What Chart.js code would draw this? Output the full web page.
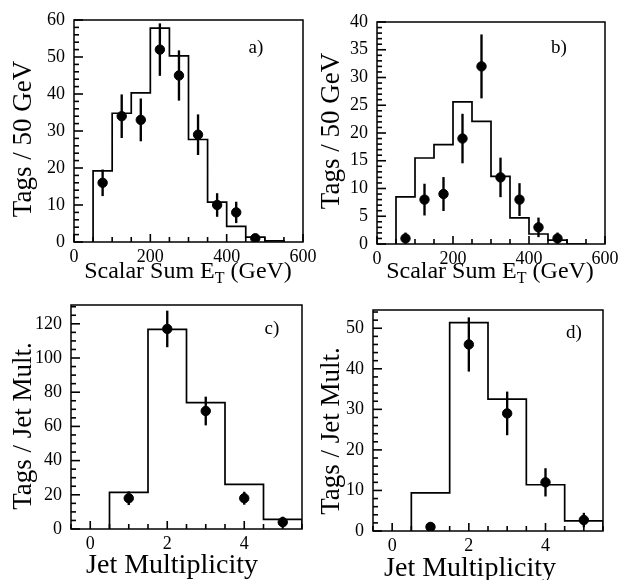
<!DOCTYPE html>
<html>
<head>
<meta charset="utf-8">
<script src="https://cdn.jsdelivr.net/npm/chart.js@4.4.1/dist/chart.umd.min.js"></script>
<style>
  html, body { margin: 0; padding: 0; background: #fff; }
  #wrap { position: relative; width: 621px; height: 580px; overflow: hidden; }
  canvas { position: absolute; }
</style>
</head>
<body>
<div id="wrap">
  <canvas id="chartA" width="330" height="290" style="left:0;top:0"></canvas>
  <canvas id="chartB" width="311" height="290" style="left:310px;top:0"></canvas>
  <canvas id="chartC" width="320" height="290" style="left:0;top:290px"></canvas>
  <canvas id="chartD" width="311" height="290" style="left:310px;top:290px"></canvas>
</div>
<script>
// scalar sum E_T panels (a, b): histogram bins of 50 GeV, left edges
const etEdges = [50, 100, 150, 200, 250, 300, 350, 400, 450, 500];
const etCenters = [75, 125, 175, 225, 275, 325, 375, 425, 475];
const etTicks = [0, 200, 400, 600];

const histA = [19.2, 34.8, 40.3, 57.8, 50.3, 27.7, 10.8, 4.2, 1.3, 0.3];
const tagsA = [16, 34, 33, 52, 45, 29, 10, 8, 1];
const errA = [3.5, 5.8, 5.7, 7, 6.7, 5.4, 3.1, 2.8, 1];
const yTicksA = [0, 10, 20, 30, 40, 50, 60];

const histB = [8.5, 15.5, 17.9, 25.6, 22.1, 12.2, 4.7, 1.8, 0.7, 0];
const tagsB = [1, 8, 9, 19, 32, 12, 8, 3, 1];
const errB = [1, 2.8, 3, 4.4, 5.7, 3.5, 2.9, 1.7, 1];
const yTicksB = [0, 5, 10, 15, 20, 25, 30, 35, 40];

// jet multiplicity panels (c, d)
const jetEdges = [0.5, 1.5, 2.5, 3.5, 4.5];
const jetCenters = [1, 2, 3, 4, 5];
const jetTicks = [0, 2, 4];

const histC = [21.4, 116.7, 73.9, 26.1, 5.6];
const tagsC = [18, 117, 69, 18, 4];
const errC = [3.8, 10.5, 8.2, 3.6, 3];
const yTicksC = [0, 20, 40, 60, 80, 100, 120];

const histD = [9.4, 51.4, 32.5, 11.4, 2.5];
const tagsD = [1, 46, 29, 12, 2.7];
const errD = [1, 6.6, 5.3, 3.4, 1.7];
const yTicksD = [0, 10, 20, 30, 40, 50];

const FONT = '"Liberation Serif", "Times New Roman", serif';

// box around the plot, ticks pointing inwards on left and bottom
function frameTicks(cfg) {
  return {
    id: 'frameTicks',
    afterDraw(chart) {
      const ctx = chart.ctx;
      const a = chart.chartArea;
      const xs = chart.scales.x;
      const ys = chart.scales.y;
      ctx.save();
      ctx.strokeStyle = '#000';
      ctx.lineWidth = 1.5;
      ctx.strokeRect(a.left, a.top, a.right - a.left, a.bottom - a.top);

      ctx.lineWidth = 1.6;
      const nx = Math.round((cfg.xMax - cfg.xMin) / cfg.xMinor);
      for (let i = 0; i <= nx; i++) {
        const v = cfg.xMin + i * cfg.xMinor;
        const px = xs.getPixelForValue(v);
        const major = cfg.xTicks.some(t => Math.abs(t - v) < 1e-6);
        ctx.beginPath();
        ctx.moveTo(px, a.bottom);
        ctx.lineTo(px, a.bottom - (major ? 8 : 5));
        ctx.stroke();
      }
      const ny = Math.floor(cfg.yMax / cfg.yMinor + 1e-9);
      for (let i = 0; i <= ny; i++) {
        const v = i * cfg.yMinor;
        const py = ys.getPixelForValue(v);
        const major = cfg.yTicks.some(t => Math.abs(t - v) < 1e-6);
        ctx.beginPath();
        ctx.moveTo(a.left, py);
        ctx.lineTo(a.left + (major ? 9 : 5), py);
        ctx.stroke();
      }
      ctx.restore();
    }
  };
}

// axis titles (with subscript pieces) and the panel letter
function paperText(cfg) {
  return {
    id: 'paperText',
    afterDraw(chart) {
      const ctx = chart.ctx;
      ctx.save();
      ctx.fillStyle = '#000';

      ctx.save();
      ctx.translate(cfg.yTitle.x, cfg.yTitle.y);
      ctx.rotate(-Math.PI / 2);
      ctx.font = cfg.yTitle.size + 'px ' + FONT;
      ctx.textAlign = 'center';
      ctx.textBaseline = 'alphabetic';
      ctx.fillText(cfg.yTitle.text, 0, 0);
      ctx.restore();

      const t = cfg.xTitle;
      const subSize = Math.round(t.size * 0.68);
      let total = 0;
      t.parts.forEach(p => {
        ctx.font = (p.sub ? subSize : t.size) + 'px ' + FONT;
        p.w = ctx.measureText(p.text).width;
        total += p.w;
      });
      let x = t.x - total / 2;
      ctx.textAlign = 'left';
      ctx.textBaseline = 'alphabetic';
      t.parts.forEach(p => {
        ctx.font = (p.sub ? subSize : t.size) + 'px ' + FONT;
        ctx.fillText(p.text, x, t.y + (p.sub ? t.size * 0.22 : 0));
        x += p.w;
      });

      ctx.font = cfg.tag.size + 'px ' + FONT;
      ctx.textAlign = 'center';
      ctx.textBaseline = 'middle';
      ctx.fillText(cfg.tag.text, cfg.tag.x, cfg.tag.y);
      ctx.restore();
    }
  };
}

function makePanel(id, cfg) {
  const histPts = [{ x: cfg.edges[0], y: 0 }];
  cfg.edges.forEach((e, i) => histPts.push({ x: e, y: cfg.hist[i] }));
  const lastEdge = cfg.edges[cfg.edges.length - 1] + cfg.binWidth;
  histPts.push({ x: lastEdge, y: cfg.hist[cfg.hist.length - 1] });
  histPts.push({ x: lastEdge, y: 0 });

  const points = cfg.centers.map((x, i) => ({ x: x, y: cfg.tags[i] }));
  const bars = cfg.centers.map((x, i) => ({ x: x, y: [cfg.tags[i] - cfg.err[i], cfg.tags[i] + cfg.err[i]] }));

  const tickFont = { family: FONT, size: 18 };

  new Chart(document.getElementById(id), {
    type: 'scatter',
    data: {
      datasets: [
        {
          type: 'line',
          data: histPts,
          stepped: true,
          borderColor: '#000',
          borderWidth: 1.7,
          pointRadius: 0,
          fill: false,
          order: 3
        },
        {
          type: 'bar',
          data: bars,
          backgroundColor: '#000',
          borderWidth: 0,
          barThickness: 1.7,
          order: 2
        },
        {
          type: 'scatter',
          data: points,
          backgroundColor: '#000',
          borderColor: '#000',
          pointRadius: 4.7,
          pointHoverRadius: 4.7,
          order: 1
        }
      ]
    },
    options: {
      responsive: false,
      animation: false,
      layout: { padding: { top: cfg.padTop, right: cfg.padRight, left: 0, bottom: 0 } },
      plugins: { legend: { display: false }, tooltip: { enabled: false } },
      scales: {
        x: {
          type: 'linear',
          min: cfg.xMin,
          max: cfg.xMax,
          offset: false,
          grid: { display: false, drawTicks: false },
          border: { display: false },
          ticks: { color: '#000', font: tickFont, padding: 4, maxRotation: 0, autoSkip: false },
          afterBuildTicks: s => { s.ticks = cfg.xTicks.map(v => ({ value: v })); },
          afterFit: s => { s.height = cfg.xAxisH; s.paddingLeft = 0; s.paddingRight = 0; }
        },
        y: {
          type: 'linear',
          min: 0,
          max: cfg.yMax,
          grid: { display: false, drawTicks: false },
          border: { display: false },
          ticks: { color: '#000', font: tickFont, padding: 9, autoSkip: false },
          afterBuildTicks: s => { s.ticks = cfg.yTicks.map(v => ({ value: v })); },
          afterFit: s => { s.width = cfg.yAxisW; s.paddingTop = 0; s.paddingBottom = 0; }
        }
      }
    },
    plugins: [frameTicks(cfg), paperText(cfg)]
  });
}

const etTitle = [{ text: 'Scalar Sum E' }, { text: 'T', sub: true }, { text: ' (GeV)' }];

makePanel('chartA', {
  edges: etEdges, binWidth: 50, hist: histA, centers: etCenters, tags: tagsA, err: errA,
  xMin: 0, xMax: 600, yMax: 60, xTicks: etTicks, yTicks: yTicksA, xMinor: 50, yMinor: 2,
  padTop: 20, padRight: 27, yAxisW: 74, xAxisH: 48,
  yTitle: { text: 'Tags / 50 GeV', x: 31, y: 139, size: 27 },
  xTitle: { parts: etTitle, x: 188, y: 278, size: 24 },
  tag: { text: 'a)', x: 256, y: 48, size: 19 }
});

makePanel('chartB', {
  edges: etEdges, binWidth: 50, hist: histB, centers: etCenters, tags: tagsB, err: errB,
  xMin: 0, xMax: 600, yMax: 40, xTicks: etTicks, yTicks: yTicksB, xMinor: 50, yMinor: 1,
  padTop: 22, padRight: 16, yAxisW: 67, xAxisH: 46,
  yTitle: { text: 'Tags / 50 GeV', x: 29, y: 131, size: 27 },
  xTitle: { parts: etTitle, x: 180, y: 278, size: 24 },
  tag: { text: 'b)', x: 249, y: 48, size: 19 }
});

makePanel('chartC', {
  edges: jetEdges, binWidth: 1, hist: histC, centers: jetCenters, tags: tagsC, err: errC,
  xMin: -0.5, xMax: 5.5, yMax: 131, xTicks: jetTicks, yTicks: yTicksC, xMinor: 0.5, yMinor: 5,
  padTop: 15, padRight: 18, yAxisW: 71, xAxisH: 51,
  yTitle: { text: 'Tags / Jet Mult.', x: 31, y: 136, size: 27 },
  xTitle: { parts: [{ text: 'Jet Multiplicity' }], x: 172, y: 283, size: 28 },
  tag: { text: 'c)', x: 272, y: 39, size: 19 }
});

makePanel('chartD', {
  edges: jetEdges, binWidth: 1, hist: histD, centers: jetCenters, tags: tagsD, err: errD,
  xMin: -0.5, xMax: 5.5, yMax: 54.5, xTicks: jetTicks, yTicks: yTicksD, xMinor: 0.5, yMinor: 2,
  padTop: 20, padRight: 18, yAxisW: 63, xAxisH: 49,
  yTitle: { text: 'Tags / Jet Mult.', x: 29, y: 141, size: 27 },
  xTitle: { parts: [{ text: 'Jet Multiplicity' }], x: 160, y: 286, size: 28 },
  tag: { text: 'd)', x: 264, y: 43, size: 19 }
});
</script>
</body>
</html>
